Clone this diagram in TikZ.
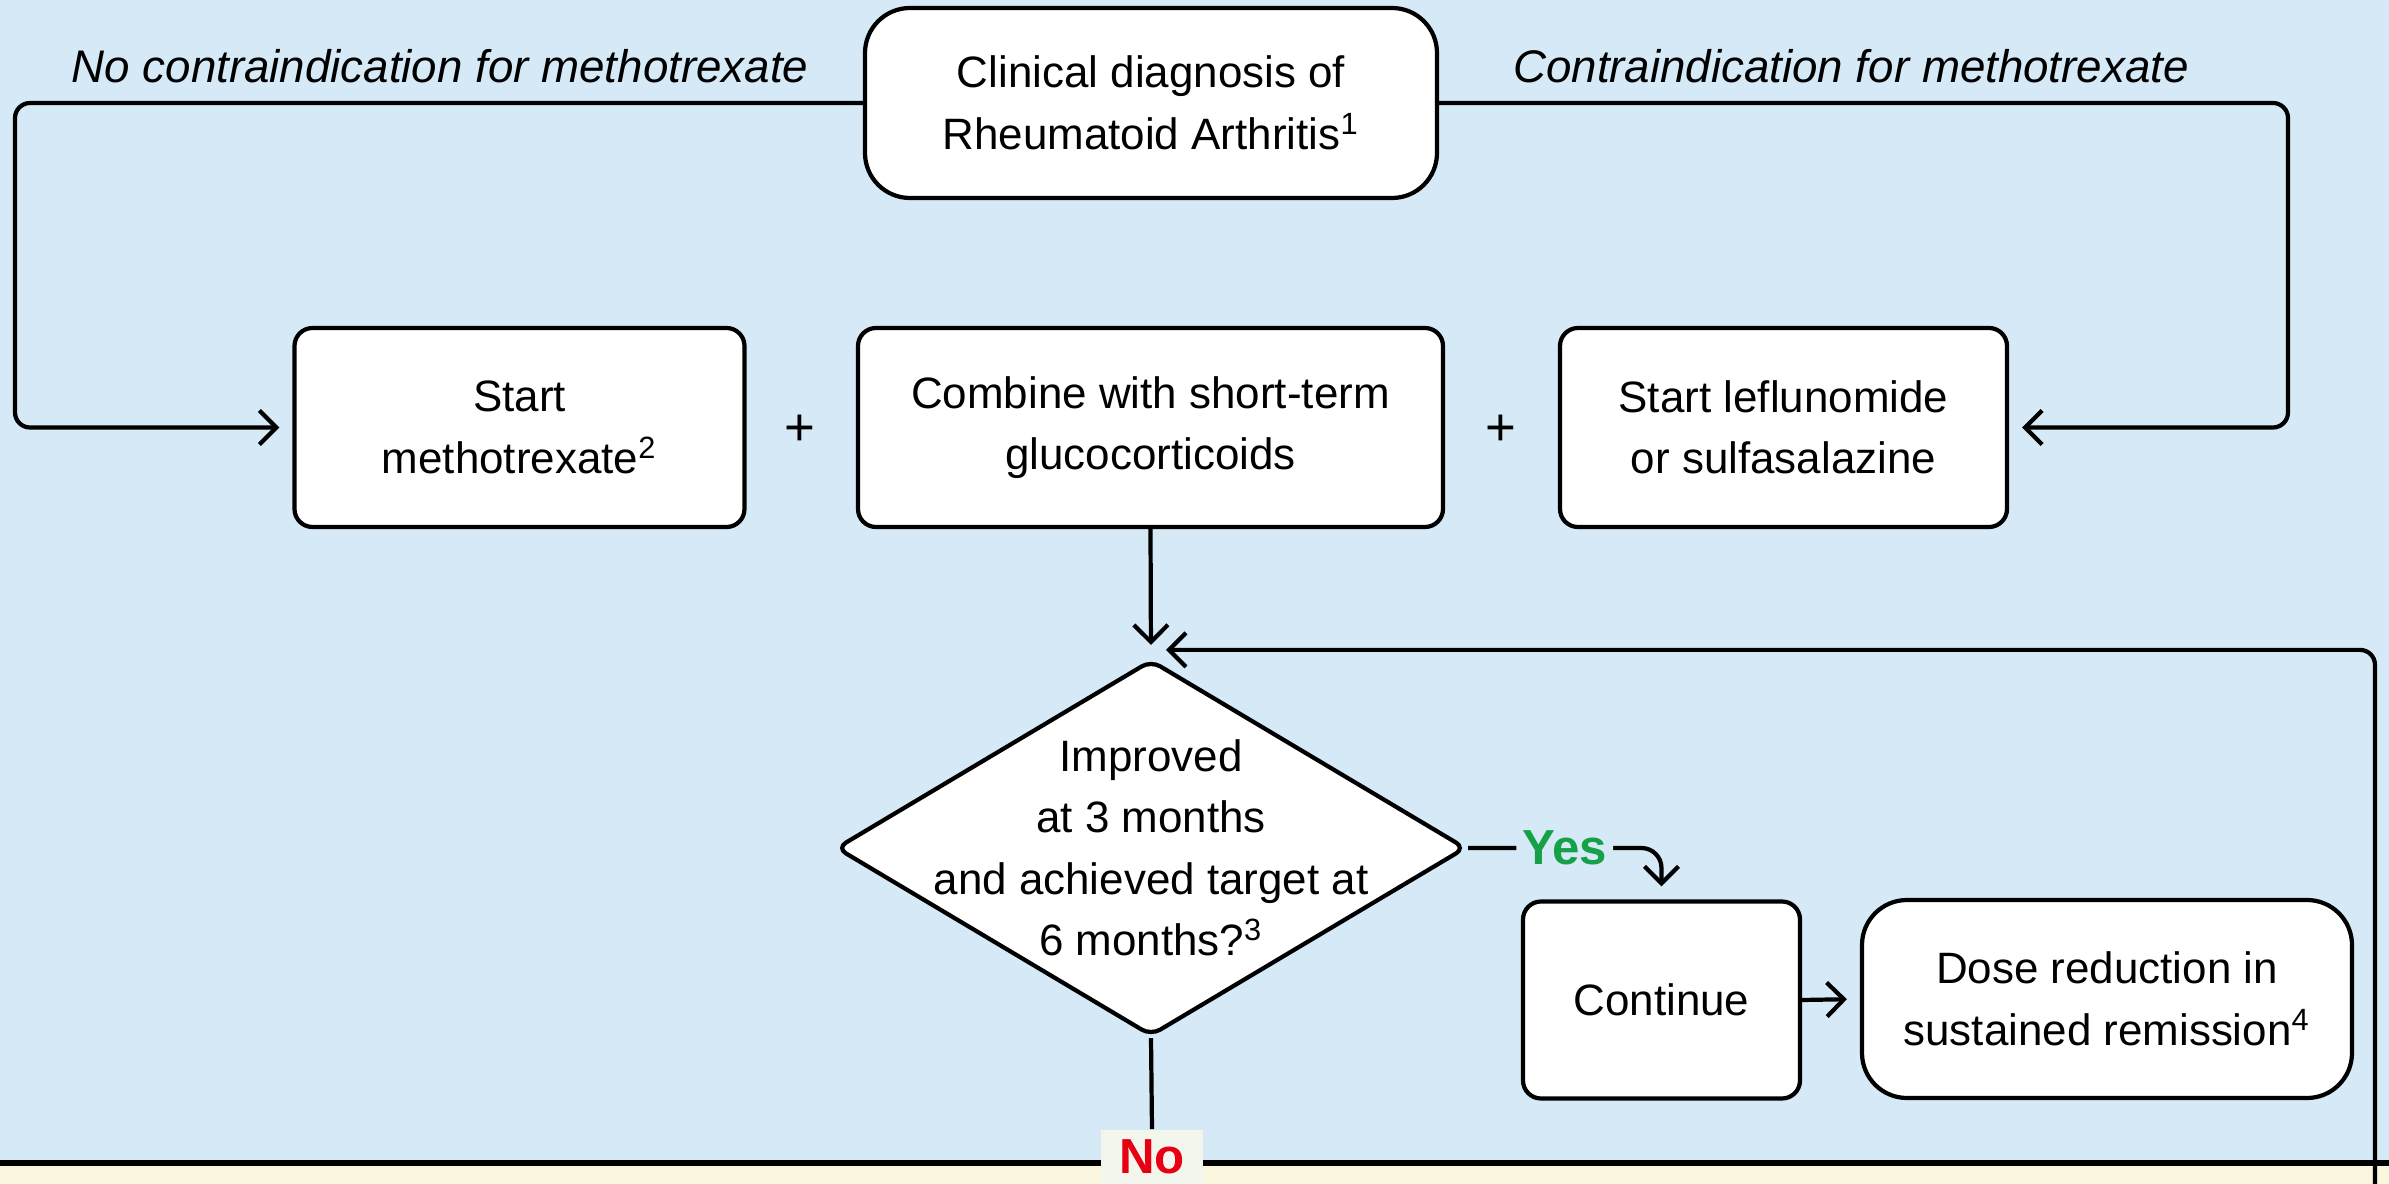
\documentclass[tikz,border=0pt]{standalone}
\usepackage{fontspec}
\setmainfont{Liberation Sans}
\usetikzlibrary{shapes.geometric,arrows.meta,positioning}
\definecolor{bgblue}{RGB}{213,234,246}
\definecolor{bgyel}{RGB}{251,246,222}
\definecolor{yesgrn}{RGB}{22,160,72}
\definecolor{nored}{RGB}{230,0,18}
\definecolor{nobg}{RGB}{243,246,236}

\tikzset{
  box/.style={draw, line width=1.2pt, fill=white, rounded corners=0.18cm,
    align=center, inner sep=0pt},
  rbox/.style={box, rounded corners=0.45cm},
  decision/.style={draw, diamond, line width=1.2pt, fill=white,
    rounded corners=3pt, inner sep=0pt,
    minimum width=6.3cm, minimum height=3.76cm},
  conn/.style={line width=1.2pt, rounded corners=0.15cm,
    -{Straight Barb[length=0.17cm,width=0.34cm]}, shorten >=0.13cm},
  link/.style={line width=1.2pt},
  branch/.style={font=\fontsize{13}{16}\selectfont\itshape, anchor=base},
  plus/.style={font=\fontsize{15}{16}\selectfont},
  yeslabel/.style={font=\fontsize{14}{16}\selectfont\bfseries, text=yesgrn,
    fill=bgblue, inner xsep=0.06cm, inner ysep=0.08cm},
  nolabel/.style={font=\fontsize{14}{16}\selectfont\bfseries, text=nored,
    fill=nobg, inner xsep=0.18cm, inner ysep=0.1cm}
}

\begin{document}
\begin{tikzpicture}[font=\fontsize{12.5}{17.5}\selectfont]
  \useasboundingbox (0,0) rectangle (23.89,-11.84);
  % background
  \fill[bgblue] (0,0) rectangle (23.89,-11.84);
  \fill[bgyel] (0,-11.63) rectangle (23.89,-11.84);
  \draw[line width=1.6pt] (0,-11.63) -- (23.89,-11.63);

  % diagnosis
  \node[rbox, minimum width=5.72cm, minimum height=1.90cm] (diag) at (11.51,-1.03)
    {Clinical diagnosis of\\Rheumatoid Arthritis\textsuperscript{1}};
  \node[branch] (nocontra) at (4.40,-0.83) {No contraindication for methotrexate};
  \node[branch] (contra) at (18.51,-0.83) {Contraindication for methotrexate};

  % first line treatment
  \node[box, minimum width=4.50cm, minimum height=1.99cm] (mtx) at (5.195,-4.275)
    {Start\\methotrexate\textsuperscript{2}};
  \node[box, minimum width=5.85cm, minimum height=1.99cm] (gc) at (11.505,-4.275)
    {Combine with short-term\\glucocorticoids};
  \node[box, minimum width=4.47cm, minimum height=1.99cm] (lef) at (17.835,-4.275)
    {Start leflunomide\\or sulfasalazine};
  \node[plus] (plusa) at (8.00,-4.30) {+};
  \node[plus] (plusb) at (15.01,-4.30) {+};

  % check at 3 and 6 months
  \node[decision, label={[align=center]center:Improved\\at 3 months\\and achieved target at\\6 months?\textsuperscript{3}}] (dec) at (11.51,-8.48) {};
  \node[box, minimum width=2.77cm, minimum height=1.97cm] (cont) at (16.615,-10.0)
    {Continue};
  \node[rbox, minimum width=4.90cm, minimum height=1.98cm] (dose) at (21.07,-9.99)
    {Dose reduction in\\sustained remission\textsuperscript{4}};
  \node[nolabel] (nolab) at (11.52,-11.57) {No};

  % connectors
  \coordinate (lcorner) at (0.15,-4.275);
  \coordinate (rcorner) at (22.88,-4.275);
  \coordinate (loopst) at (23.75,-11.84);
  \coordinate (loopend) at ([xshift=0.15cm,yshift=0.08cm]dec.north);
  \draw[conn] (diag.west) -| (lcorner) -- (mtx.west);
  \draw[conn] (diag.east) -| (rcorner) -- (lef.east);
  \draw[conn] (gc.south) -- (dec.north);
  \draw[conn, shorten >=0pt] (loopst) |- (loopend);
  \draw[conn, rounded corners=0.2cm] (dec.east) -| node[yeslabel, pos=0.25] {Yes} (cont.north);
  \draw[conn] (cont.east) -- (dose.west);
  \draw[link] (dec.south) -- (nolab.north);
\end{tikzpicture}
\end{document}
